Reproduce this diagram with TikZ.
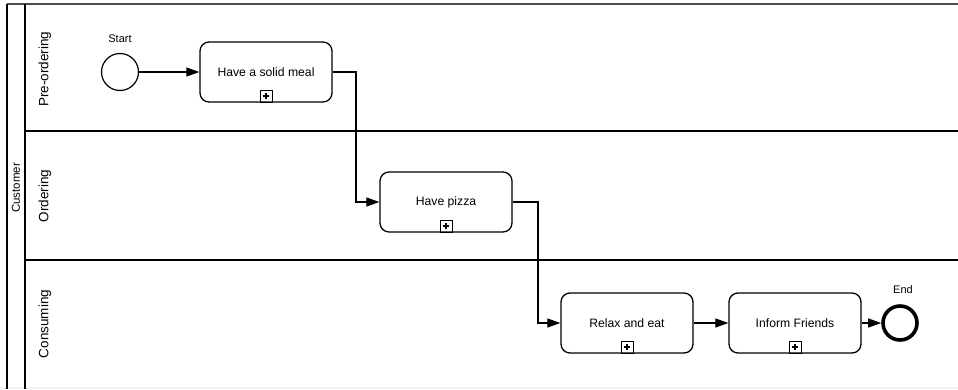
\documentclass[tikz,border=0pt]{standalone}
\usepackage{fontspec}
\setmainfont{Liberation Sans}
\usetikzlibrary{arrows.meta}

\tikzset{
  task/.style={draw, line width=1.3pt, rounded corners=9pt, minimum width=132pt,
               minimum height=60pt, inner sep=0pt, font=\fontsize{12.2}{14}\selectfont},
  startev/.style={circle, draw, line width=1.2pt, minimum size=37pt, inner sep=0pt},
  endev/.style={circle, draw, line width=3.6pt, minimum size=34pt, inner sep=0pt},
  evlabel/.style={font=\fontsize{11}{13}\selectfont, inner sep=0pt},
  flow/.style={draw, line width=1.2pt, -{Triangle[length=13pt,width=9pt]}},
  laneline/.style={line width=1.1pt},
  lanelabel/.style={rotate=90, font=\fontsize{13.5}{16}\selectfont, inner sep=0pt},
  subbox/.style={draw, line width=1pt, minimum size=12pt, inner sep=0pt}
}

\newcommand{\submarker}[1]{%
  \node[subbox, anchor=south] (#1-sub) at (#1.south) {};
  \draw[line width=1.4pt] ([xshift=-3.2pt]#1-sub.center) -- ([xshift=3.2pt]#1-sub.center)
        ([yshift=-3.2pt]#1-sub.center) -- ([yshift=3.2pt]#1-sub.center);%
}

\begin{document}
\begin{tikzpicture}[x=1pt, y=-1pt]
  \useasboundingbox (0,0) rectangle (958,389);
  \fill[white] (0,0) rectangle (958,389);
  \fill[black!6] (0,387) rectangle (958,389);

  % pool and lanes
  \draw[line width=2pt, black!70] (7,4) -- (958,4);
  \draw[laneline] (7,4) -- (7,389);
  \draw[laneline] (25,4) -- (25,389);
  \draw[laneline] (25,131) -- (958,131);
  \draw[laneline] (25,260) -- (958,260);

  \node[lanelabel, font=\fontsize{11.5}{14}\selectfont] (pool) at (16,188) {Customer};
  \node[lanelabel] (lane1) at (45,69) {Pre-ordering};
  \node[lanelabel] (lane2) at (45,196) {Ordering};
  \node[lanelabel] (lane3) at (45,324) {Consuming};

  % events and tasks
  \node[startev] (start) at (120,72) {};
  \node[evlabel] (startlbl) at (120,39) {Start};

  \node[task] (meal) at (266,72) {Have a solid meal};
  \node[task] (pizza) at (446,202) {Have pizza};
  \node[task] (relax) at (627,323) {Relax and eat};
  \node[task] (inform) at (795,323) {Inform Friends};

  \node[endev] (end) at (900,323) {};
  \node[evlabel] (endlbl) at (903,290) {End};

  \submarker{meal}
  \submarker{pizza}
  \submarker{relax}
  \submarker{inform}

  % sequence flows
  \draw[flow] (start) -- (meal);
  \draw[flow] (meal.east) -- (356,72) |- (pizza.west);
  \draw[flow] (pizza.east) -- (538,202) |- (relax.west);
  \draw[flow] (relax) -- (inform);
  \draw[flow] (inform) -- (end);
\end{tikzpicture}
\end{document}
